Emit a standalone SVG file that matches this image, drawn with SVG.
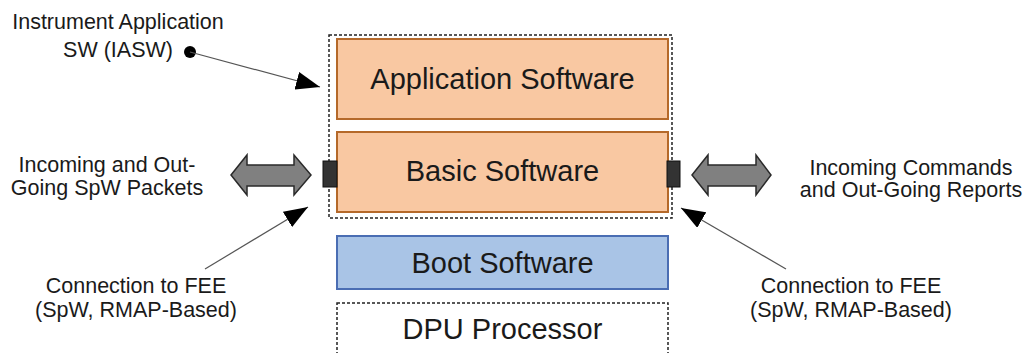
<svg xmlns="http://www.w3.org/2000/svg" width="1030" height="353" viewBox="0 0 1030 353">
<defs>
<style>
.lbl{font-family:"Liberation Sans",Arial,sans-serif;font-size:21.5px;fill:#1a1a1a;text-anchor:middle}
.box{font-family:"Liberation Sans",Arial,sans-serif;font-size:29px;fill:#1a1a1a;text-anchor:middle}
.sw{fill:#f9c8a2;stroke:#b5692a;stroke-width:2}
.boot{fill:#a9c4e6;stroke:#4a6db3;stroke-width:2}
.dash{fill:none;stroke:#222;stroke-width:1.5;stroke-dasharray:3 2}
.port{fill:#333;stroke:#111;stroke-width:1}
.dbl{fill:#808080;stroke:#2a2a2a;stroke-width:1.5;stroke-linejoin:miter}
.ptr{fill:none;stroke:#555;stroke-width:1.2}
</style>
<marker id="ah" viewBox="0 0 24 18" refX="24" refY="9" markerWidth="24" markerHeight="18" markerUnits="userSpaceOnUse" orient="auto">
<path d="M0,0 L24,9 L0,18 Z" fill="#000"/>
</marker>
</defs>
<g id="iasw-container">
<rect class="dash" x="329" y="35" width="343" height="183"/>
</g>
<g id="application-software">
<rect class="sw" x="337" y="39" width="331" height="80"/>
<text class="box" x="502.5" y="89">Application Software</text>
</g>
<g id="basic-software">
<rect class="sw" x="337" y="132" width="331" height="80"/>
<text class="box" x="502.5" y="181">Basic Software</text>
</g>
<g id="port-left"><rect class="port" x="323" y="161" width="14" height="26"/></g>
<g id="port-right"><rect class="port" x="667" y="161" width="13" height="26"/></g>
<g id="boot-software">
<rect class="boot" x="337" y="236" width="331" height="53"/>
<text class="box" x="502.5" y="273">Boot Software</text>
</g>
<g id="dpu-processor">
<rect class="dash" x="337" y="303" width="331" height="60"/>
<text class="box" x="502.5" y="339">DPU Processor</text>
</g>
<g id="label-iasw">
<text class="lbl" x="118" y="29">Instrument Application</text>
<text class="lbl" x="118" y="57">SW (IASW)</text>
</g>
<g id="label-spw-packets">
<text class="lbl" x="107" y="172">Incoming and Out-</text>
<text class="lbl" x="107" y="195">Going SpW Packets</text>
</g>
<g id="label-commands">
<text class="lbl" x="911" y="175">Incoming Commands</text>
<text class="lbl" x="911" y="197">and Out-Going Reports</text>
</g>
<g id="label-fee-left">
<text class="lbl" x="136" y="293">Connection to FEE</text>
<text class="lbl" x="136" y="317">(SpW, RMAP-Based)</text>
</g>
<g id="label-fee-right">
<text class="lbl" x="851" y="293">Connection to FEE</text>
<text class="lbl" x="851" y="317">(SpW, RMAP-Based)</text>
</g>
<g id="connectors">
<polygon class="dbl" points="231,175 247,155 247,165 294,165 294,155 311,175 294,195 294,186 247,186 247,195"/>
<polygon class="dbl" points="692,175 708,155 708,165 756,165 756,155 771,175 756,195 756,186 708,186 708,195"/>
<circle cx="190" cy="52" r="6" fill="#000"/>
<line class="ptr" x1="190" y1="52" x2="320" y2="87" marker-end="url(#ah)"/>
<line class="ptr" x1="205" y1="269" x2="308" y2="207" marker-end="url(#ah)"/>
<line class="ptr" x1="786" y1="269" x2="681" y2="208" marker-end="url(#ah)"/>
</g>
</svg>
